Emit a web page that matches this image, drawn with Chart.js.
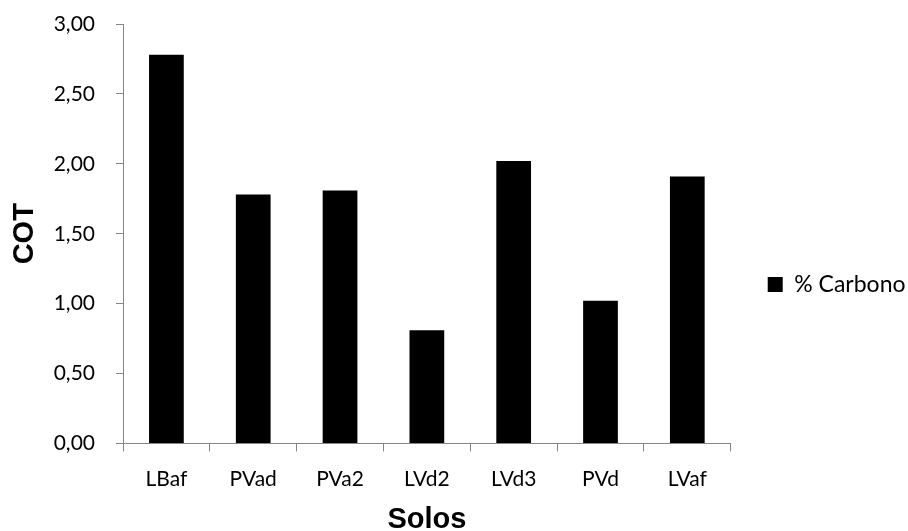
<!DOCTYPE html>
<html>
<head>
<meta charset="utf-8">
<script src="https://cdn.jsdelivr.net/npm/chart.js@4/dist/chart.umd.min.js"></script>
<style>
  html, body { margin: 0; padding: 0; background: #ffffff; }
  #wrap { width: 908px; height: 531px; position: relative; }
</style>
</head>
<body>
<div id="wrap"><canvas id="c" width="908" height="531"></canvas></div>
<script>
const categories = ['LBaf', 'PVad', 'PVa2', 'LVd2', 'LVd3', 'PVd', 'LVaf'];
const carbono = [2.78, 1.78, 1.81, 0.81, 2.02, 1.02, 1.91];
const seriesLabel = '% Carbono';
const yTitle = 'COT';
const xTitle = 'Solos';

const AXIS = '#868686';
const tickFont = { family: 'Lato', size: 21 };
const titleFont = { family: 'Liberation Sans', size: 29, weight: 'bold', lineHeight: 0.75 };

const legendShift = {
  id: 'legendShift',
  afterLayout(chart) {
    const l = chart.legend;
    if (l) { l.left += 27; l.right += 27; l.top += 7; l.bottom += 7; }
  }
};

new Chart(document.getElementById('c'), {
  type: 'bar',
  data: {
    labels: categories,
    datasets: [{
      label: seriesLabel,
      data: carbono,
      backgroundColor: '#000000',
      borderColor: '#000000',
      borderWidth: 0,
      barPercentage: 0.4,
      categoryPercentage: 1.0
    }]
  },
  plugins: [legendShift],
  options: {
    responsive: false,
    animation: false,
    devicePixelRatio: 1,
    layout: { padding: { left: 4, right: 19.5, top: 24, bottom: 0 } },
    plugins: {
      tooltip: { enabled: false },
      legend: {
        display: true,
        position: 'right',
        labels: {
          boxWidth: 15,
          boxHeight: 15,
          padding: 10,
          color: '#000000',
          font: { family: 'Lato', size: 23 }
        }
      }
    },
    scales: {
      x: {
        offset: true,
        border: { display: true, color: AXIS, width: 1 },
        grid: { display: true, offset: true, drawOnChartArea: false, drawTicks: true, tickLength: 8, color: AXIS },
        ticks: { color: '#000000', font: tickFont, padding: 15, maxRotation: 0, autoSkip: false },
        title: { display: true, text: xTitle, color: '#000000', font: titleFont, padding: { top: 0, bottom: 0 } },
        afterFit(s) { s.height = 531 - 443.5; }
      },
      y: {
        min: 0,
        max: 3,
        border: { display: true, color: AXIS, width: 1 },
        grid: { display: true, drawOnChartArea: false, drawTicks: true, tickLength: 7, color: AXIS },
        ticks: {
          stepSize: 0.5,
          color: '#000000',
          font: tickFont,
          padding: 21,
          callback: (v) => Number(v).toFixed(2).replace('.', ',')
        },
        title: { display: true, text: yTitle, color: '#000000', font: titleFont, padding: { top: 10, bottom: 0 } },
        afterFit(s) { s.width = 123 - 4; s.paddingTop = 0; s.paddingBottom = 0; }
      }
    }
  }
});
</script>
</body>
</html>
